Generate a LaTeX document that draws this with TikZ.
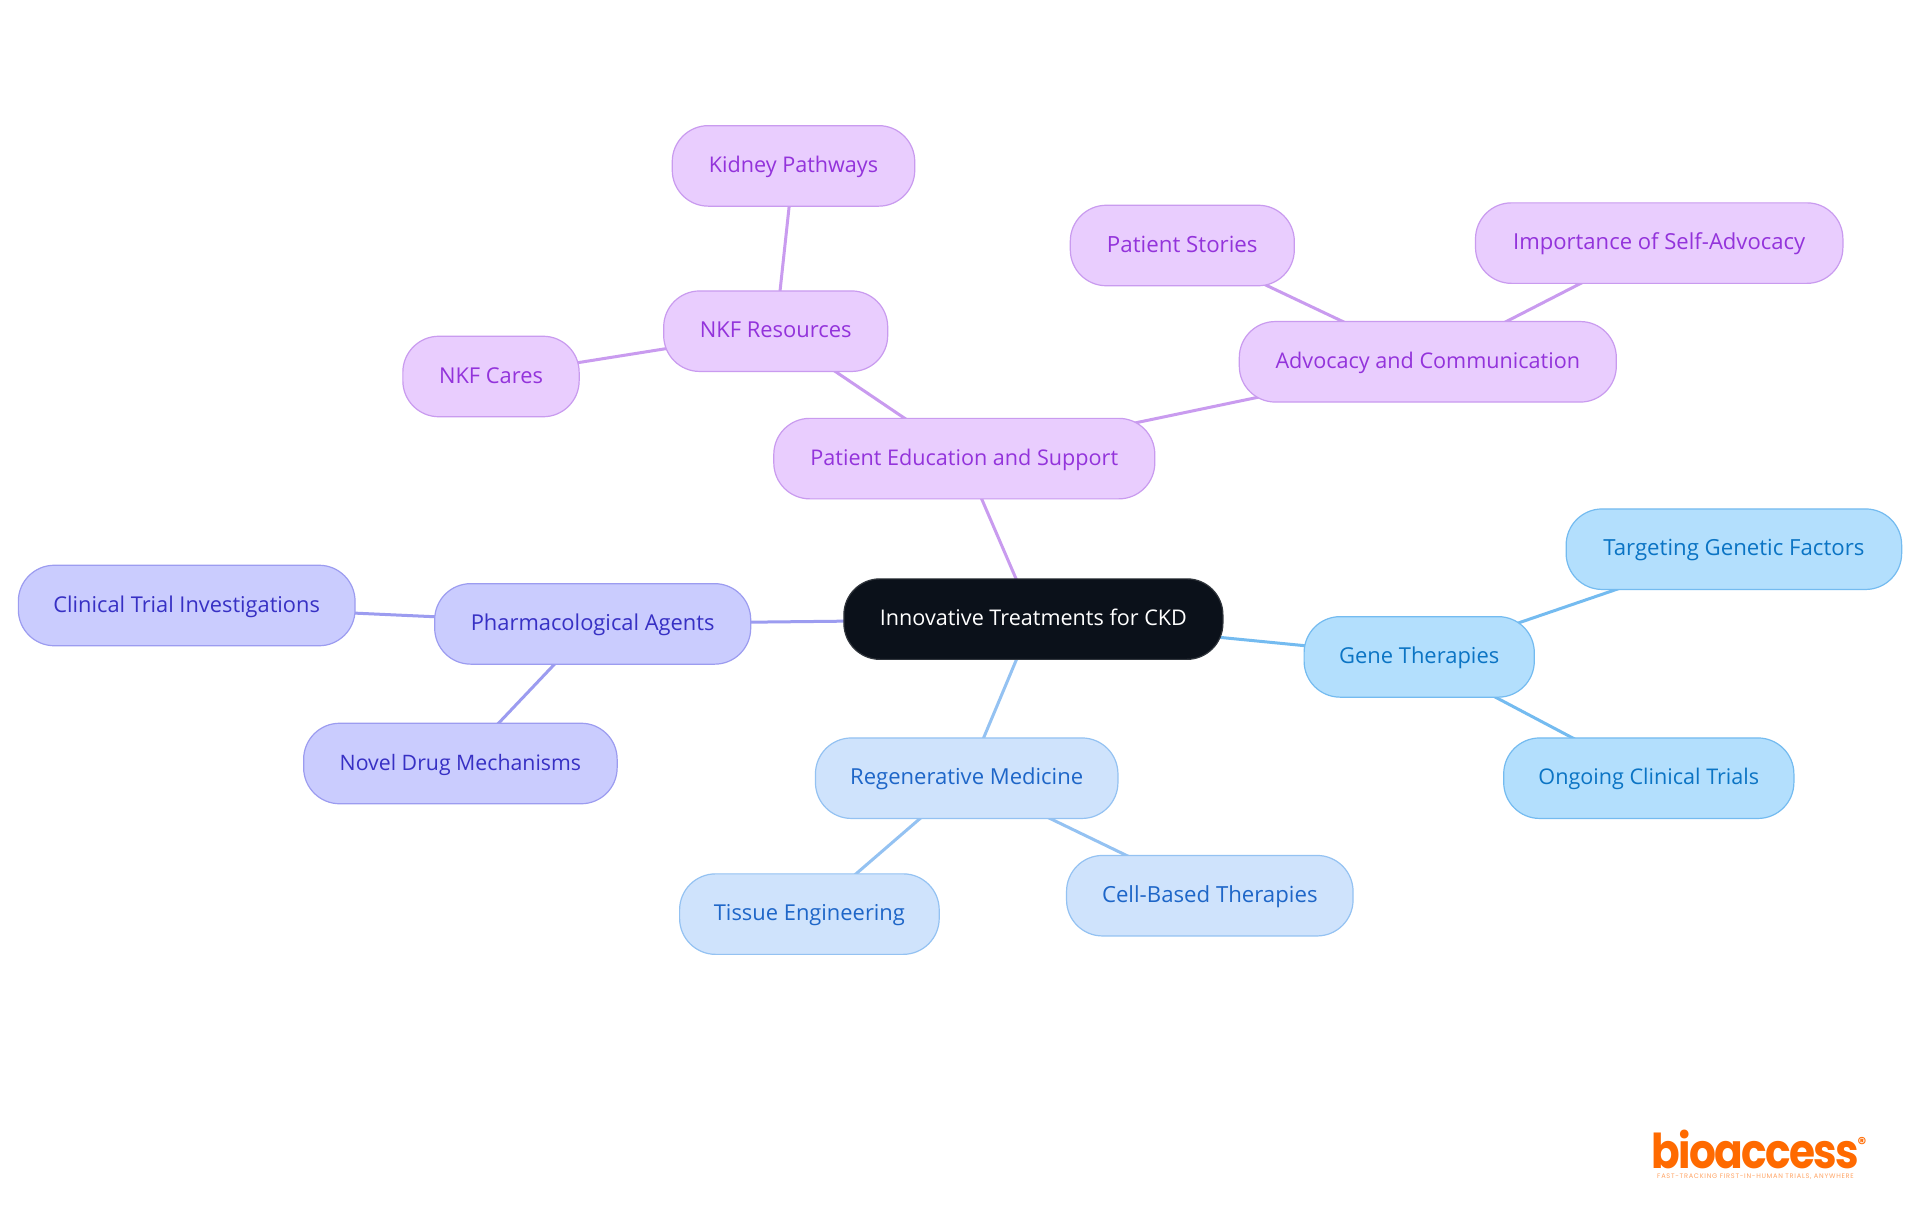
\documentclass[tikz,border=0pt]{standalone}
\usepackage{fontspec}
\setmainfont{Open Sans}
\newfontfamily\logofont[LetterSpace=-4]{Poppins}
\newfontfamily\tagfont[LetterSpace=11]{Poppins}
\newfontfamily\regfont{Poppins}
\usetikzlibrary{backgrounds}
\definecolor{purF}{HTML}{E9CDFE}\definecolor{purD}{HTML}{C99BEF}\definecolor{purT}{HTML}{9333DB}
\definecolor{indF}{HTML}{CACCFE}\definecolor{indD}{HTML}{9C9CF0}\definecolor{indT}{HTML}{3730C4}
\definecolor{bluF}{HTML}{CFE3FC}\definecolor{bluD}{HTML}{94C2F2}\definecolor{bluT}{HTML}{1E66C8}
\definecolor{skyF}{HTML}{B3DFFD}\definecolor{skyD}{HTML}{74BBF0}\definecolor{skyT}{HTML}{0B74C4}
\definecolor{rootF}{HTML}{0B111A}\definecolor{logoC}{HTML}{FF6A00}
\tikzset{
 x=1pt,y=-1pt,
 fs/.style={font=\fontsize{#1}{26}\selectfont},
 pill/.style={rounded corners=36pt,minimum height=80.5pt,inner sep=0pt,text height=17pt,text depth=4pt,line width=1.2pt,fs=21.6},
 purN/.style={pill,fill=purF,draw=purD,text=purT},
 indN/.style={pill,fill=indF,draw=indD,text=indT},
 bluN/.style={pill,fill=bluF,draw=bluD,text=bluT},
 skyN/.style={pill,fill=skyF,draw=skyD,text=skyT},
 rootN/.style={pill,fill=rootF,draw=rootF!85!white,text=white},
 link/.style={line width=3pt},
 purL/.style={link,draw=purD},
 indL/.style={link,draw=indD},
 bluL/.style={link,draw=bluD},
 skyL/.style={link,draw=skyD},
}
\begin{document}
\begin{tikzpicture}
\useasboundingbox (0,0) rectangle (1920,1215);
\begin{scope}[yshift=-0.6pt]
\node[rootN,minimum width=379pt] (root) at (1033.4,618.5) {Innovative Treatments for CKD};
\node[purN,minimum width=381pt] (edu) at (964.3,458) {Patient Education and Support};
\node[purN,fs=21.95,minimum width=224pt] (nkf) at (775.7,330.6) {NKF Resources};
\node[purN,minimum width=242.5pt] (kidney) at (793.5,165.3) {Kidney Pathways};
\node[purN,fs=21.85,minimum width=176.3pt] (cares) at (491,375.9) {NKF Cares};
\node[purN,minimum width=377pt] (adv) at (1427.8,361.2) {Advocacy and Communication};
\node[purN,fs=22.3,minimum width=224pt] (stories) at (1182.3,244.9) {Patient Stories};
\node[purN,fs=22.05,minimum width=367.4pt] (self) at (1659.2,242.5) {Importance of Self-Advocacy};
\node[skyN,fs=21.95,minimum width=230.2pt] (gene) at (1419.2,656.3) {Gene Therapies};
\node[skyN,fs=22.2,minimum width=335.5pt] (target) at (1733.9,548.6) {Targeting Genetic Factors};
\node[skyN,minimum width=290.2pt] (trials) at (1648.8,777.6) {Ongoing Clinical Trials};
\node[bluN,fs=22.05,minimum width=302.5pt] (regen) at (966.7,777.6) {Regenerative Medicine};
\node[bluN,fs=21.9,minimum width=259.6pt] (tissue) at (809.4,913.5) {Tissue Engineering};
\node[bluN,fs=22.2,minimum width=286.5pt] (cell) at (1209.8,895.1) {Cell-Based Therapies};
\node[indN,fs=21.9,minimum width=316pt] (pharma) at (592.7,623.3) {Pharmacological Agents};
\node[indN,fs=21.8,minimum width=336.7pt] (clin) at (186.7,604.9) {Clinical Trial Investigations};
\node[indN,fs=21.3,minimum width=313.5pt] (novel) at (460.4,762.9) {Novel Drug Mechanisms};
\end{scope}
\begin{scope}[on background layer]
\fill[white] (0,0) rectangle (1920,1215);
\draw[purL] (root.center) -- (edu.center);
\draw[purL] (edu.center) -- (nkf.center);
\draw[purL] (nkf.center) -- (kidney.center);
\draw[purL] (nkf.center) -- (cares.center);
\draw[purL] (edu.center) -- (adv.center);
\draw[purL] (adv.center) -- (stories.center);
\draw[purL] (adv.center) -- (self.center);
\draw[skyL] (root.center) -- (gene.center);
\draw[skyL] (gene.center) -- (target.center);
\draw[skyL] (gene.center) -- (trials.center);
\draw[bluL] (root.center) -- (regen.center);
\draw[bluL] (regen.center) -- (tissue.center);
\draw[bluL] (regen.center) -- (cell.center);
\draw[indL] (root.center) -- (pharma.center);
\draw[indL] (pharma.center) -- (clin.center);
\draw[indL] (pharma.center) -- (novel.center);
\end{scope}
\node[inner sep=0pt,anchor=base,text=logoC] (logo) at (1755,1168) {\scalebox{0.88}[1]{\logofont\bfseries\fontsize{48}{48}\selectfont bioaccess}};
\node[inner sep=0pt,text=logoC] (reg) at (1862,1143) {\regfont\bfseries\fontsize{17}{17}\selectfont ®};
\node[inner sep=0pt,text=logoC!60!white] (tag) at (1755.5,1177) {\tagfont\fontsize{6.6}{7}\selectfont FAST-TRACKING FIRST-IN-HUMAN TRIALS, ANYWHERE};
\end{tikzpicture}
\end{document}
